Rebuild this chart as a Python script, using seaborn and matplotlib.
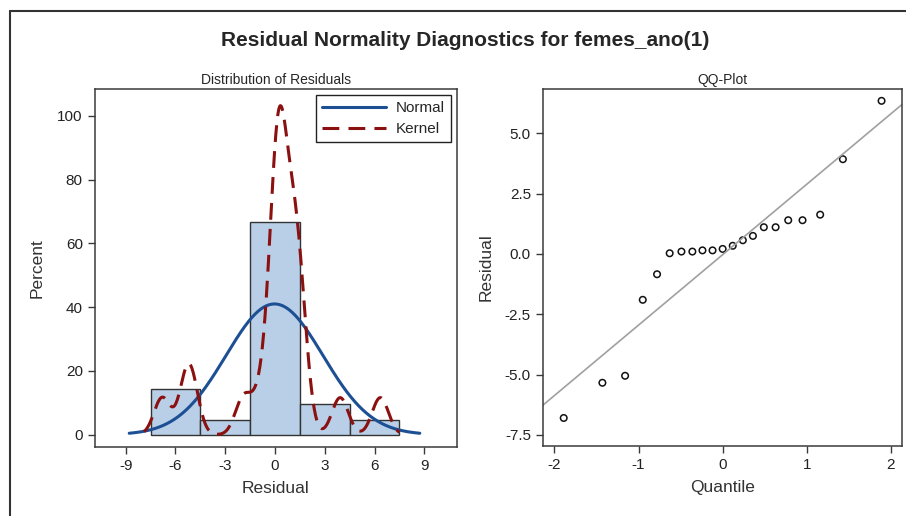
import numpy as np
import matplotlib
matplotlib.use("Agg")
import matplotlib.pyplot as plt
from matplotlib.lines import Line2D
from matplotlib.ticker import FuncFormatter, FixedLocator
import seaborn as sns

# ---- data ----
residuals = [-6.80, -5.34, -5.05, -1.90, -0.84, 0.03, 0.10, 0.10, 0.15, 0.15, 0.21,
             0.34, 0.57, 0.75, 1.11, 1.11, 1.40, 1.40, 1.63, 3.93, 6.35]
quantiles = [-1.89, -1.43, -1.16, -0.95, -0.78, -0.63, -0.49, -0.36, -0.24, -0.12, 0.0,
             0.12, 0.24, 0.36, 0.49, 0.63, 0.78, 0.95, 1.16, 1.43, 1.89]
bin_edges = [-7.5, -4.5, -1.5, 1.5, 4.5, 7.5]
bin_width = 3
pct_ticks = [0, 20, 40, 60, 80, 100]
x_ticks_left = [-9, -6, -3, 0, 3, 6, 9]
x_ticks_right = [-2, -1, 0, 1, 2]
y_ticks_right = [-7.5, -5.0, -2.5, 0.0, 2.5, 5.0]
title = "Residual Normality Diagnostics for femes_ano(1)"

sns.set_style("ticks")
plt.rcParams["font.family"] = ["Liberation Sans", "DejaVu Sans"]
plt.rcParams["axes.unicode_minus"] = False
plt.rcParams["axes.edgecolor"] = "#3a3a3a"
plt.rcParams["xtick.color"] = "#3a3a3a"
plt.rcParams["ytick.color"] = "#3a3a3a"
plt.rcParams["xtick.labelcolor"] = "#222222"
plt.rcParams["ytick.labelcolor"] = "#222222"

res = np.array(residuals)
mu = res.mean()
sd = res.std(ddof=1)
scale = 100 * bin_width  # density -> percent per bin

fig = plt.figure(figsize=(9.06, 5.16), dpi=100)
axL = fig.add_axes([0.1045, 0.1343, 0.3995, 0.6927])
axR = fig.add_axes([0.599, 0.1362, 0.3963, 0.6908])

# ---- left: histogram + normal + kernel ----
sns.histplot(x=res, bins=bin_edges, stat="density", ax=axL,
             color="#b9cfe7", edgecolor="#333333", linewidth=1.0, alpha=1.0)
grid = np.linspace(mu - 3 * sd, mu + 3 * sd, 300)
pdf = np.exp(-0.5 * ((grid - mu) / sd) ** 2) / (sd * np.sqrt(2 * np.pi))
sns.lineplot(x=grid, y=pdf, ax=axL, color="#1c4f94", linewidth=2.2, label="Normal")
sns.kdeplot(x=res, bw_method=0.168, clip=(-7.9, 7.5), gridsize=400, ax=axL,
            color="#8b1010", linewidth=2.2, linestyle=(0, (5.5, 3)), label="Kernel")

axL.set_xlim(-10.87, 10.95)
axL.set_ylim(-3.76 / scale, 108.3 / scale)
axL.xaxis.set_major_locator(FixedLocator(x_ticks_left))
axL.yaxis.set_major_locator(FixedLocator([p / scale for p in pct_ticks]))
axL.yaxis.set_major_formatter(FuncFormatter(lambda v, _: f"{v * scale:.0f}"))
axL.set_xlabel("Residual", fontsize=12.5, color="#333333", labelpad=6)
axL.set_ylabel("Percent", fontsize=12.5, color="#333333", labelpad=9)
axL.set_title("Distribution of Residuals", fontsize=10, pad=4)
leg = axL.legend(loc="upper right", frameon=True, fancybox=False, framealpha=1,
                 edgecolor="#222222", fontsize=11, handlelength=4.2,
                 borderaxespad=0.4, labelspacing=0.45, handletextpad=0.6)
leg.get_frame().set_linewidth(1.0)

# ---- right: QQ plot ----
sns.scatterplot(x=quantiles, y=res, ax=axR, marker="o", s=22,
                facecolor="none", edgecolor="#111111", linewidth=1.1)
axR.set_xlim(-2.14, 2.13)
axR.set_ylim(-7.95, 6.83)
axR.axline((0, mu), slope=sd, color="#a0a0a0", linewidth=1.2, zorder=1)
axR.xaxis.set_major_locator(FixedLocator(x_ticks_right))
axR.yaxis.set_major_locator(FixedLocator(y_ticks_right))
axR.yaxis.set_major_formatter(FuncFormatter(lambda v, _: f"{v:.1f}"))
axR.set_xlabel("Quantile", fontsize=12.5, color="#333333", labelpad=6)
axR.set_ylabel("Residual", fontsize=12.5, color="#333333", labelpad=8)
axR.set_title("QQ-Plot", fontsize=10, pad=4)

for ax in (axL, axR):
    for sp in ax.spines.values():
        sp.set_visible(True)
        sp.set_linewidth(1.1)
    ax.tick_params(axis="both", direction="out", length=5, width=1, labelsize=11)

fig.text(0.513, 0.922, title, ha="center", va="center", fontsize=15, fontweight="bold")

# outer frame (top and left edges visible)
fig.add_artist(Line2D([10 / 906, 1.0], [1 - 11 / 516, 1 - 11 / 516], color="#333333", lw=1.5))
fig.add_artist(Line2D([10 / 906, 10 / 906], [0, 1 - 11 / 516], color="#333333", lw=1.5))

fig.savefig("out.png", dpi=100)
